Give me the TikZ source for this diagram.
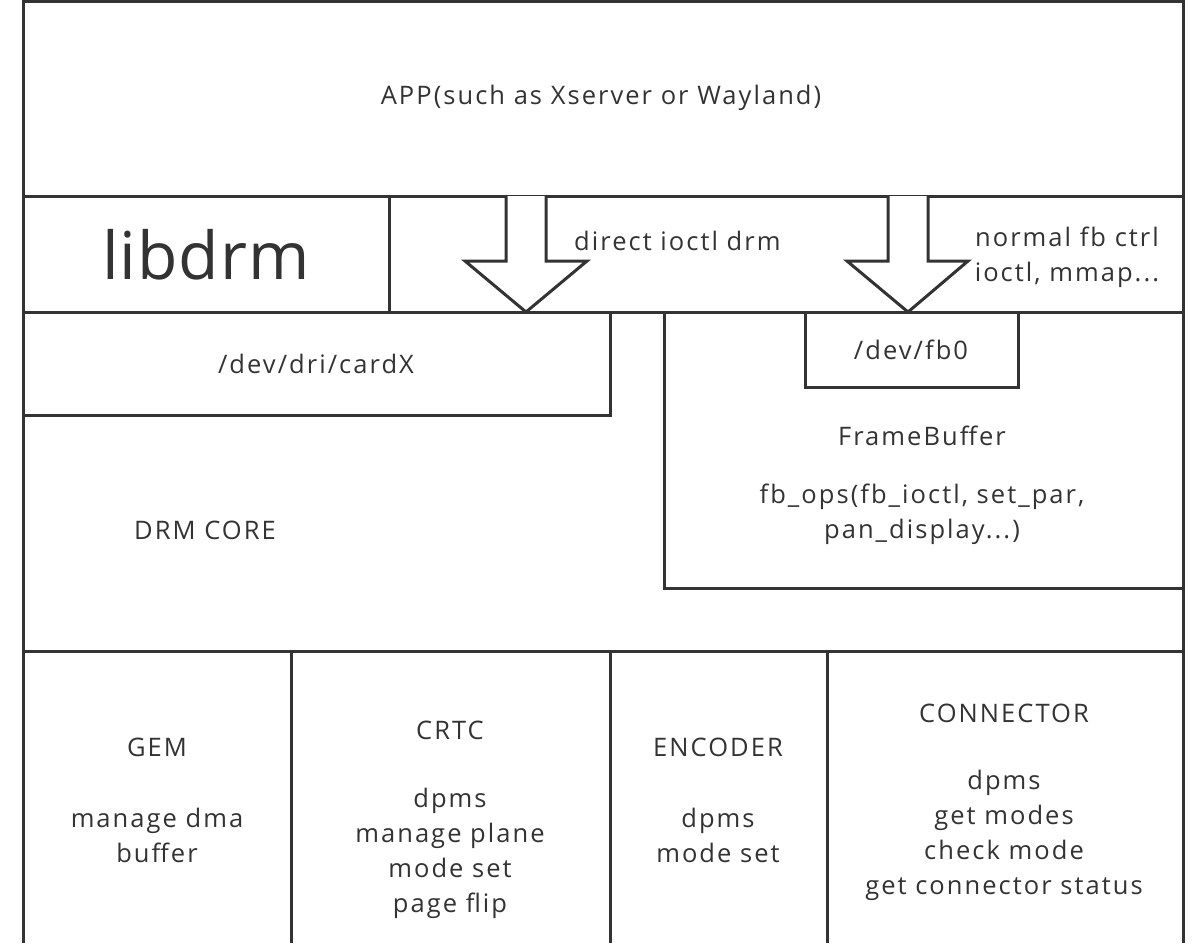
\documentclass[tikz,border=0pt]{standalone}
\usepackage{fontspec}
\setmainfont{Open Sans}[LetterSpace=8]
\newfontfamily\bigfont{Open Sans}[LetterSpace=1.5]
\begin{document}
\begin{tikzpicture}[x=1pt,y=-1pt,
  ln/.style={draw=black!80,line width=3pt},
  txt/.style={text=black!80,font=\fontsize{25.5}{35}\selectfont,align=center,inner sep=0pt},
  bigarrow/.style={draw=black!80,line width=3pt,fill=white,line join=miter}]
\useasboundingbox (0,0) rectangle (1201,943);
% outer frame and rows
\draw[ln] (23,943) -- (23,1.5) -- (1183,1.5) -- (1183,943);
\draw[ln] (23,196) -- (1183,196);
\draw[ln] (23,312) -- (1183,312);
\draw[ln] (23,651) -- (1183,651);
\draw[ln] (389,196) -- (389,312);
% cardX box
\draw[ln] (23,415) -- (610,415) -- (610,312);
% framebuffer box
\draw[ln] (664,312) -- (664,588) -- (1183,588);
% fb0 box
\draw[ln] (805,312) -- (805,387) -- (1018,387) -- (1018,312);
% bottom dividers
\draw[ln] (291,651) -- (291,943);
\draw[ln] (610,651) -- (610,943);
\draw[ln] (827,651) -- (827,943);
% arrows
\coordinate (a1) at (526,312);
\coordinate (a2) at (908,312);
\draw[bigarrow] (506,196) -- (506,261) -- (465,261) -- (a1) -- (587,261) -- (546,261) -- (546,196);
\draw[bigarrow] (888,196) -- (888,261) -- (847,261) -- (a2) -- (968,261) -- (928,261) -- (928,196);
% texts
\node[txt] (app) at (601,98) {APP(such as Xserver or Wayland)};
\node[txt,font=\bigfont\fontsize{66}{70}\selectfont] (libdrm) at (206,255) {libdrm};
\node[txt,anchor=west] (direct) at (574,241) {direct ioctl drm};
\node[txt] (normal) at (1067,257) {normal fb ctrl\\ioctl, mmap...};
\node[txt] (card) at (316,364) {/dev/dri/cardX};
\node[txt] (fb0) at (911,350) {/dev/fb0};
\node[txt] (fbuf) at (922,436) {FrameBuffer};
\node[txt] (fbops) at (922,514) {fb\_ops(fb\_ioctl, set\_par,\\pan\_display...)};
\node[txt] (core) at (205,530) {DRM CORE};
\node[txt] (gem) at (157,747) {GEM};
\node[txt] (gemd) at (157,835) {manage dma\\buffer};
\node[txt] (crtc) at (450,730) {CRTC};
\node[txt] (crtcd) at (450,853) {dpms\\manage plane\\mode set\\page flip};
\node[txt] (enc) at (718,747) {ENCODER};
\node[txt] (encd) at (718,835) {dpms\\mode set};
\node[txt] (con) at (1004,713) {CONNECTOR};
\node[txt] (cond) at (1004,835) {dpms\\get modes\\check mode\\get connector status};
\end{tikzpicture}
\end{document}
